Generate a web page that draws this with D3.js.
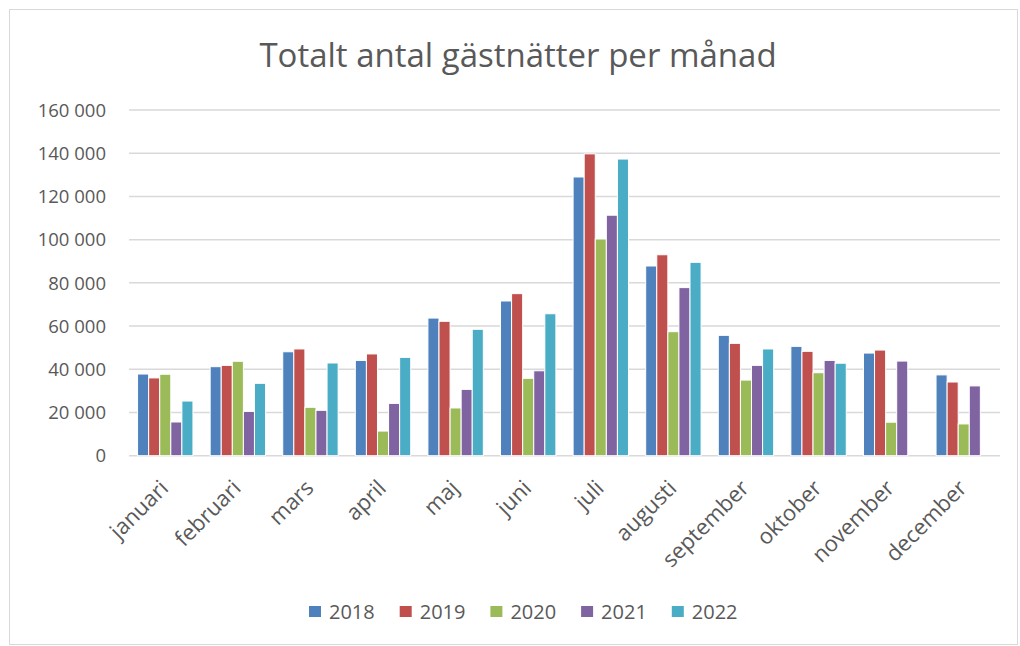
<!DOCTYPE html>
<html>
<head>
<meta charset="utf-8">
<script src="https://cdn.jsdelivr.net/npm/d3@7"></script>
<style>
  body { margin: 0; background: #fff; }
  text { font-family: "Open Sans", "Noto Sans", sans-serif; fill: #595959; }
</style>
</head>
<body>
<div id="chart"></div>
<script>
const months = ['januari', 'februari', 'mars', 'april', 'maj', 'juni', 'juli', 'augusti', 'september', 'oktober', 'november', 'december'];
const years = ['2018', '2019', '2020', '2021', '2022'];
const colors = ['#4F81BD', '#C0504D', '#9BBB59', '#8064A2', '#4BACC6'];
const yTicks = [0, 20000, 40000, 60000, 80000, 100000, 120000, 140000, 160000];

const v2018 = [37800, 41200, 48100, 44100, 63700, 71600, 129000, 87800, 55700, 50600, 47500, 37400];
const v2019 = [36000, 41800, 49400, 47100, 62200, 75000, 139700, 93000, 52000, 48300, 48900, 34100];
const v2020 = [37700, 43700, 22400, 11400, 22100, 35800, 100300, 57400, 35000, 38400, 15500, 14700];
const v2021 = [15600, 20500, 21000, 24200, 30700, 39300, 111300, 77800, 41800, 44100, 43800, 32300];
const v2022 = [25300, 33500, 42900, 45500, 58500, 65700, 137300, 89500, 49400, 42800, null, null];
const series = [v2018, v2019, v2020, v2021, v2022];

const width = 1020, height = 646;
const margin = {left: 129, right: 20, top: 110, bottom: 190};

const svg = d3.select('#chart').append('svg')
    .attr('width', width)
    .attr('height', height);

svg.append('rect')
    .attr('x', 9.5).attr('y', 9.5)
    .attr('width', 1008).attr('height', 635)
    .attr('fill', '#fff')
    .attr('stroke', '#d9d9d9');

svg.append('text')
    .attr('x', 518)
    .attr('y', 67)
    .attr('text-anchor', 'middle')
    .style('font-size', '33px')
    .text('Totalt antal gästnätter per månad');

let x = d3.scaleBand().domain(months).range([margin.left, width - margin.right]).paddingInner(0.237).paddingOuter(0.118);
let xInner = d3.scaleBand().domain(years).range([0, x.bandwidth()]);
let y = d3.scaleLinear().domain([0, 160000]).range([455.7, margin.top]);

const fmt = v => d3.format(',')(v).replace(/,/g, ' ');

// gridlines
svg.append('g').selectAll('line')
    .data(yTicks)
    .enter().append('line')
    .attr('x1', margin.left)
    .attr('x2', width - margin.right)
    .attr('y1', d => y(d))
    .attr('y2', d => y(d))
    .attr('stroke', '#d9d9d9')
    .attr('stroke-width', 1.5);

svg.append('g').selectAll('text')
    .data(yTicks)
    .enter().append('text')
    .attr('x', 106)
    .attr('y', d => y(d))
    .attr('dy', '.36em')
    .attr('text-anchor', 'end')
    .style('font-size', '18.5px')
    .text(fmt);

// bars
const groups = svg.append('g').selectAll('.month')
    .data(months)
    .enter().append('g')
    .attr('class', 'month')
    .attr('transform', d => 'translate(' + x(d) + ',0)');

groups.selectAll('rect')
    .data((d, i) => series.map((s, j) => ({year: years[j], value: s[i], color: colors[j]})).filter(e => e.value != null))
    .enter().append('rect')
    .attr('x', d => xInner(d.year))
    .attr('width', xInner.bandwidth())
    .attr('y', d => y(d.value))
    .attr('height', d => y(0) - y(d.value))
    .attr('fill', d => d.color)
    .attr('stroke', '#fff')
    .attr('stroke-width', 1);

// x labels
svg.append('g').selectAll('text')
    .data(months)
    .enter().append('text')
    .attr('transform', d => 'translate(' + (x(d) + x.bandwidth() / 2 - 1) + ',484) rotate(-45)')
    .attr('text-anchor', 'end')
    .attr('dy', '.35em')
    .style('font-size', '22px')
    .text(d => d);

// legend
const legend = svg.append('g').selectAll('g')
    .data(years)
    .enter().append('g')
    .attr('transform', (d, i) => 'translate(' + (309 + i * 90.7) + ',0)');

legend.append('rect')
    .attr('y', 606)
    .attr('width', 12)
    .attr('height', 11)
    .attr('fill', (d, i) => colors[i]);

legend.append('text')
    .attr('x', 20)
    .attr('y', 619)
    .style('font-size', '20px')
    .text(d => d);
</script>
</body>
</html>
